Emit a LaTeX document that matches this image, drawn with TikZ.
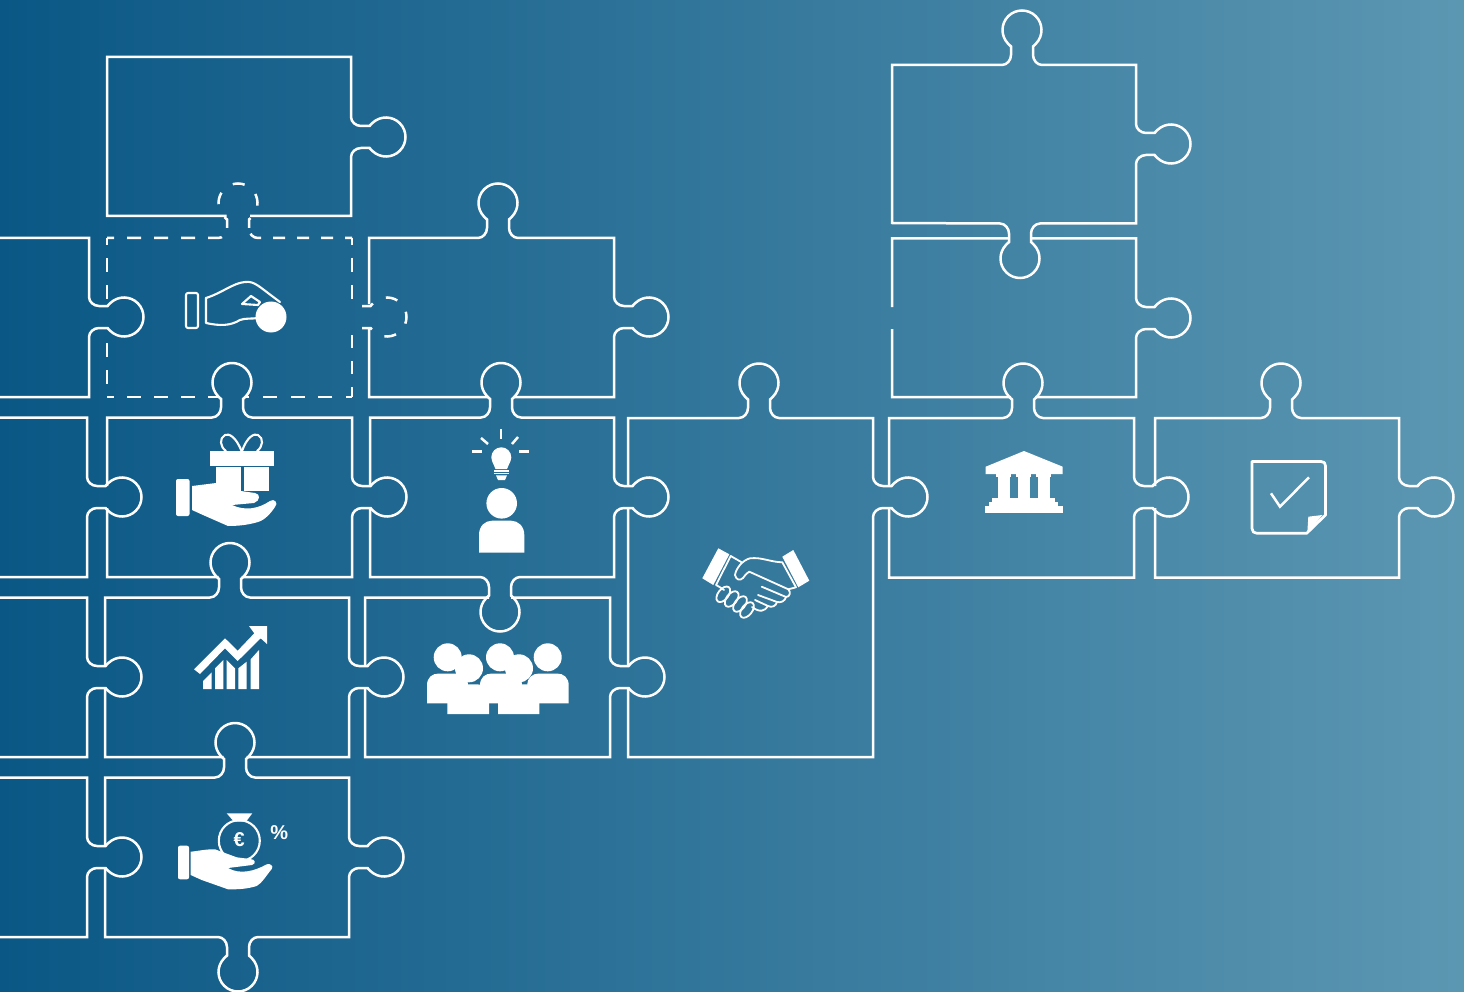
\documentclass[tikz,border=0pt]{standalone}
\usepackage{fontspec}
\setmainfont{Liberation Sans}
\definecolor{bgleft}{HTML}{0A5785}
\definecolor{bgright}{HTML}{5C97B2}
\tikzset{
  x=1pt,y=-1pt,
  edgeline/.style={draw=white,line width=2.5pt,line join=miter,line cap=butt},
  edgedash/.style={edgeline,dash pattern=on 14pt off 13pt,dash phase=7pt},
  icofill/.style={fill=white,draw=none},
  icoline/.style={draw=white,line width=2.1pt,line join=round,line cap=round},
  shakeline/.style={icoline,line width=1.8pt},
  icoray/.style={draw=white,line width=2.5pt,line cap=butt}
}
\def\X#1#2{\tbx+(#1)*\tbu+(#2)*\tbv}
\def\Y#1#2{\tby+(#1)*\tbv-(#2)*\tbu}
% the round head of a tab, from neck to neck
\newcommand\tabhead{%
  -- ({\X{-11}{18.5}},{\Y{-11}{18.5}})
  -- ({\X{-14.03}{21.45}},{\Y{-14.03}{21.45}})
  .. controls ({\X{-21.45}{29.13}},{\Y{-21.45}{29.13}}) and ({\X{-21.30}{41.37}},{\Y{-21.30}{41.37}}) .. ({\X{-13.70}{48.87}},{\Y{-13.70}{48.87}})
  .. controls ({\X{-6.10}{56.37}},{\Y{-6.10}{56.37}}) and ({\X{6.10}{56.37}},{\Y{6.10}{56.37}}) .. ({\X{13.70}{48.87}},{\Y{13.70}{48.87}})
  .. controls ({\X{21.30}{41.37}},{\Y{21.30}{41.37}}) and ({\X{21.45}{29.13}},{\Y{21.45}{29.13}}) .. ({\X{14.03}{21.45}},{\Y{14.03}{21.45}})
  -- ({\X{11}{18.5}},{\Y{11}{18.5}})
  -- ({\X{11}{10}},{\Y{11}{10}})
}
\newcommand\tabset[4]{\pgfextra{\gdef\tbx{#1}\gdef\tby{#2}\gdef\tbu{#3}\gdef\tbv{#4}}}
\newcommand\tabgen[4]{%
  \tabset{#1}{#2}{#3}{#4}
  -- ({\X{-20}{0}},{\Y{-20}{0}})
  .. controls ({\X{-15}{0}},{\Y{-15}{0}}) and ({\X{-11}{5}},{\Y{-11}{5}}) .. ({\X{-11}{10}},{\Y{-11}{10}})
  \tabhead
  .. controls ({\X{11}{5}},{\Y{11}{5}}) and ({\X{15}{0}},{\Y{15}{0}}) .. ({\X{20}{0}},{\Y{20}{0}})
}
\newcommand\tabT[2]{\tabgen{#1}{#2}{1}{0}}
\newcommand\tabR[2]{\tabgen{#1}{#2}{0}{1}}
\newcommand\tabB[2]{\tabgen{#1}{#2}{-1}{0}}
\begin{document}
\begin{tikzpicture}
\useasboundingbox (0,0) rectangle (1464,992);
\shade[left color=bgleft,right color=bgright,draw=none] (0,0) rectangle (1464,992);

% --- left partial pieces
\draw[edgeline] (0,238) -- (89,238) \tabR{89}{317} -- (89,397) -- (0,397);
\draw[edgeline] (0,417.5) -- (87,417.5) \tabR{87}{497} -- (87,577) -- (0,577);
\draw[edgeline] (0,597.5) -- (87,597.5) \tabR{87}{677} -- (87,757) -- (0,757);
\draw[edgeline] (0,777.5) -- (87,777.5) \tabR{87}{857} -- (87,937) -- (0,937);

% --- top-left piece
\draw[edgeline] (226.5,216) -- (107,216) -- (107,57) -- (351,57) \tabR{351}{137} -- (351,216) -- (250,216);

% --- dashed piece
\draw[edgedash] (107,238) -- (107,306);
\draw[edgedash,dash phase=14pt] (107,330) -- (107,397);
\draw[edgedash] (107,238) -- (218,238) .. controls (223,238) and (227,234) .. (227,228);
\draw[edgedash,dash pattern=on 12pt off 14.5pt,dash phase=0pt] \tabset{238}{238}{1}{0} (227,228) \tabhead;
\draw[edgedash,dash pattern=on 12pt off 12pt,dash phase=5pt] (352,238) -- (258,238) .. controls (253,238) and (249,234) .. (249,228);
\draw[edgedash] (352,238) -- (352,300);
\draw[edgedash,dash pattern=on 12pt off 14.5pt,dash phase=0pt] \tabset{352}{317}{0}{1} (362,306) \tabhead;
\draw[edgedash,dash pattern=on 13pt off 13pt,dash phase=0pt] (352,335) -- (352,397);
\draw[edgedash] (107,397) -- (220,397);
\draw[edgedash,dash pattern=on 14pt off 13.7pt,dash phase=8pt] (352,397) -- (244,397);

% --- second row right
\draw[edgeline] (369,304) -- (369,238) \tabT{498}{238} -- (614,238) \tabR{614}{317} -- (614,397) -- (513,397)
  (489,397) -- (369,397) -- (369,328);

% --- third row
\draw[edgeline] (107,486) -- (107,417.5) \tabT{232}{417.5} -- (352,417.5) \tabR{352}{497} -- (352,577) -- (241.5,577)
  (218.5,577) -- (107,577) -- (107,508);
\draw[edgeline] (370,486) -- (370,417.5) \tabT{501}{417.5} -- (614,417.5) \tabR{614}{497} -- (614,577) \tabB{500}{577} -- (370,577) -- (370,508);

% --- fourth row
\draw[edgeline] (105,666) -- (105,597.5) \tabT{230}{597.5} -- (349,597.5) \tabR{349}{677} -- (349,757) -- (246.5,757)
  (223.5,757) -- (105,757) -- (105,688);
\draw[edgeline] (365,666) -- (365,597.5) -- (489,597.5) (511,597.5) -- (610,597.5) \tabR{610}{677} -- (610,757) -- (365,757) -- (365,688);

% --- fifth row
\draw[edgeline] (105,846) -- (105,777.5) \tabT{235}{777.5} -- (349,777.5) \tabR{349}{857} -- (349,937) \tabB{238}{937} -- (105,937) -- (105,868);

% --- big piece
\draw[edgeline] (628,486) -- (628,418) \tabT{759}{418} -- (873,418) \tabR{873}{497} -- (873,757) -- (628,757) -- (628,688) (628,666) -- (628,508);

% --- right side pieces
\draw[edgeline] (892,223) -- (892,65) \tabT{1022}{65} -- (1136,65) \tabR{1136}{144} -- (1136,223.5) \tabB{1020}{223.5} -- cycle;
\draw[edgeline] (892,307) -- (892,238.5) -- (1009,238.5) (1031,238.5) -- (1136,238.5) \tabR{1136}{318} -- (1136,397) -- (1035,397)
  (1011,397) -- (892,397) -- (892,329);
\draw[edgeline] (889,486) -- (889,418) \tabT{1023}{418} -- (1134,418) \tabR{1134}{497} -- (1134,577.5) -- (889,577.5) -- (889,508);
\draw[edgeline] (1155,486) -- (1155,418) \tabT{1281}{418} -- (1399,418) \tabR{1399}{497} -- (1399,577.5) -- (1155,577.5) -- (1155,508);

% --- icon: hand with coin
\draw[icoline,rounded corners=2pt] (186,293) rectangle (198,328);
\draw[icoline] (206,298) .. controls (222,293) and (233,283) .. (245,282) .. controls (255,281) and (258,286) .. (280,302);
\draw[icoline] (206,298) -- (206,323) .. controls (220,326) and (230,326) .. (240,320) .. controls (245,318) and (252,319) .. (258,318);
\draw[icoline] (242,304) -- (251,296) -- (260,302) -- (258,305) -- cycle;
\fill[white] (271,317) circle (15.5);

% --- icon: gift and hand
\fill[icofill,rounded corners=2pt] (176,479) rectangle (189.5,516);
\fill[icofill] (210,451) rectangle (274,465.7);
\fill[icofill] (216,467) rectangle (241,491);
\fill[icofill] (244,467) rectangle (269,491);
\draw[icoline] (241.5,451) .. controls (236,437) and (229,433) .. (225,435) .. controls (219,438) and (220,447) .. (226,451);
\draw[icoline] (242,451) .. controls (247,437) and (254,433) .. (258,435) .. controls (264,438) and (263,447) .. (257,451);
\fill[icofill] (192,486) .. controls (200,485) and (208,484) .. (216,483) -- (241,491) -- (255,493)
  .. controls (261,494) and (260,501) .. (254,503) -- (232,505)
  .. controls (245,511) and (258,509) .. (270,501) .. controls (274,498) and (279,503) .. (275,507)
  .. controls (271,513) and (265,520) .. (258,522) .. controls (248,525) and (238,526) .. (228,526)
  -- (203,515) -- (192,510) -- cycle;

% --- icon: idea
\draw[icoray] (501,429) -- (501,439);
\draw[icoray] (481,438) -- (488,444);
\draw[icoray] (518,437) -- (512,444);
\draw[icoray] (472,451.5) -- (482,451.5);
\draw[icoray] (519,451.5) -- (529,451.5);
\fill[white] (501.3,457.3) circle (10);
\fill[icofill] (492.5,462) -- (510,462) -- (507,469) -- (495.5,469) -- cycle;
\fill[icofill] (494,470) rectangle (509,471.7);
\fill[icofill] (494,472.7) rectangle (509,474.4);
\fill[icofill] (496,475.4) -- (507,475.4) -- (505,480) -- (498,480) -- cycle;
\fill[white] (501.7,503.3) circle (15.3);
\fill[icofill] (479,552.7) -- (479,535) .. controls (479,526) and (485,520.7) .. (492,520.7) -- (511,520.7) .. controls (518,520.7) and (524.3,526) .. (524.3,535) -- (524.3,552.7) -- cycle;

% --- icon: group
\foreach \hx/\hy/\bl/\br/\bt/\bb in {447.7/657.3/427/468/673.5/703.3, 469/668.3/447.3/489/684.3/714, 500/657.3/480/522/673.5/703.3, 519/668.3/498/539.3/684.3/714, 547.7/657.3/527.3/568.7/673.5/703.3}{
  \fill[white] (\hx,\hy) circle (14);
  \fill[icofill] (\bl,\bb) -- (\bl,\bt+12) .. controls (\bl,\bt+4) and (\bl+5,\bt) .. (\bl+12,\bt) -- (\br-12,\bt) .. controls (\br-5,\bt) and (\br,\bt+4) .. (\br,\bt+12) -- (\br,\bb) -- cycle;
}

% --- icon: chart
\fill[icofill] (194,669.3) -- (225,638.3) -- (237.7,650.7) -- (254.3,633.3) -- (249,626) -- (267,626) -- (267,644) -- (260.7,638.3) -- (237.7,661) -- (225,648.3) -- (200,674) -- cycle;
\fill[icofill] (203,689) -- (203,681) -- (211.7,672.3) -- (211.7,689) -- cycle;
\fill[icofill] (215,689) -- (215,668.3) -- (223.3,660) -- (223.3,689) -- cycle;
\fill[icofill] (226.7,689) -- (226.7,660) -- (235,668.3) -- (235,689) -- cycle;
\fill[icofill] (238.3,689) -- (238.3,668.3) -- (246.7,661.7) -- (246.7,689) -- cycle;
\fill[icofill] (250.7,689) -- (250.7,659.3) -- (259,650) -- (259,689) -- cycle;

% --- icon: money hand
\fill[icofill,rounded corners=2pt] (178,845.7) rectangle (189,879.3);
\fill[icofill] (190.7,851.7) .. controls (198,851) and (207,849) .. (215,849.3) -- (236.7,857.3) -- (250,859)
  .. controls (256,859) and (256,864) .. (252,865) -- (228,868)
  .. controls (240,875) and (255,871) .. (266.7,864.3) .. controls (270,863) and (274,866) .. (271.7,869)
  .. controls (266,876) and (262,883) .. (256.7,886) .. controls (247,889) and (238,889.5) .. (228,889.3)
  -- (201.7,880) -- (190.7,875) -- cycle;
\draw[icoline] (239.3,840.7) circle (20.5);
\fill[icofill] (226.7,813.3) -- (252.3,813.3) -- (246,821.7) -- (234,821.7) -- cycle;
\node[text=white,inner sep=0pt,font=\bfseries\fontsize{20}{20}\selectfont] (euro) at (239.3,840) {€};
\node[text=white,inner sep=0pt,font=\bfseries\fontsize{20}{20}\selectfont] (pct) at (279.3,832.7) {\%};

% --- icon: handshake
\fill[icofill] (718.3,548.3) -- (729.3,554.3) -- (713.3,585) -- (702.3,578.3) -- cycle;
\fill[icofill] (782.3,556.7) -- (793.3,550) -- (809.3,580.7) -- (798.3,587.3) -- cycle;
\draw[shakeline] (730.7,556) -- (716,585) .. controls (719,587) and (722,588) .. (724,590);
\draw[shakeline] (730.7,556) -- (741.7,562.3);
\draw[shakeline] (782.3,562.3) .. controls (770,562) and (762,557) .. (750,558.3) .. controls (743,560) and (736,568) .. (735,575) .. controls (736,580) and (740,581) .. (743,578) .. controls (746,574) and (748,572) .. (749.3,571.7) -- (788.3,589.3) .. controls (791,592) and (790,597) .. (786,597) -- (761.7,586.7);
\draw[shakeline] (782.3,562.3) -- (796,587.3) -- (788.3,589.3);
\draw[shakeline] (786,597) .. controls (785,601) and (781,603) .. (777,602) -- (758,595);
\draw[shakeline] (777,602) .. controls (776,606) and (772,608) .. (768,606) -- (755,600);
\draw[shakeline] (768,606) .. controls (765,611) and (760,613) .. (752,607);
\foreach \cx/\cy in {723.3/594.3,731.7/599,740/604,747/610}{
  \draw[shakeline,rotate around={52:(\cx,\cy)}] (\cx,\cy) ellipse[x radius=9,y radius=5.2];
}

% --- icon: bank
\fill[icofill] (1024,451) -- (1062.7,466.7) -- (1062.7,474) -- (985.7,474) -- (985.7,466.7) -- cycle;
\fill[icofill] (996,474) rectangle (1011,476.5);
\fill[icofill] (1016,474) rectangle (1031,476.5);
\fill[icofill] (1036,474) rectangle (1051,476.5);
\fill[icofill] (998,476) rectangle (1010,498);
\fill[icofill] (1018,476) rectangle (1030,498);
\fill[icofill] (1038,476) rectangle (1050,498);
\fill[icofill] (992,498) rectangle (1054.7,502);
\fill[icofill] (989,502) rectangle (1058.3,506);
\fill[icofill] (985,506) rectangle (1062.7,513);

% --- icon: checked note
\draw[draw=white,line width=2.7pt,line join=round] (1252,461.5) -- (1321,461.5) .. controls (1324,461.5) and (1325.5,463) .. (1325.5,466) -- (1325.5,515) -- (1306.7,533.3) -- (1257,533.3) .. controls (1254,533.3) and (1252,531.5) .. (1252,528.5) -- cycle;
\fill[icofill] (1308.3,516.7) -- (1322.5,515) -- (1307.3,532.7) -- cycle;
\draw[draw=white,line width=2.5pt,line join=miter] (1271,493.3) -- (1280,506.7) -- (1309,477.3);
\end{tikzpicture}
\end{document}
